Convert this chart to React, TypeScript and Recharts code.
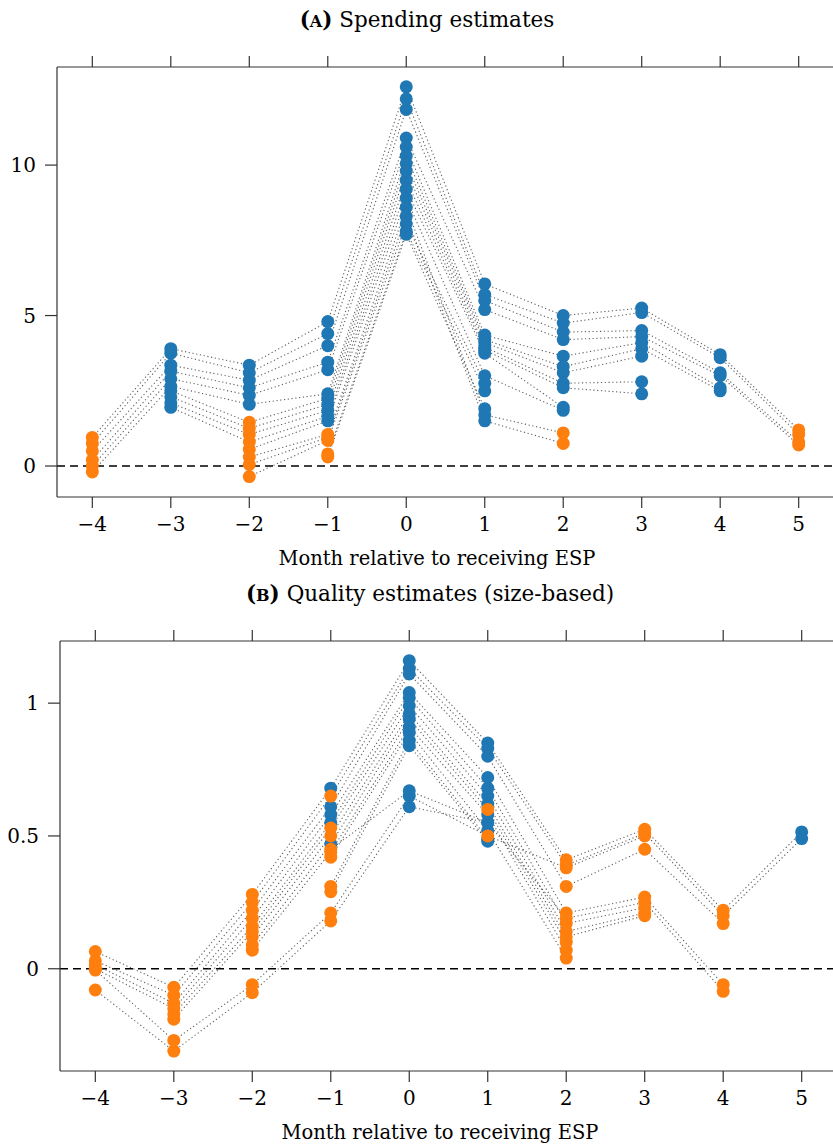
import React from "react";
import { ComposedChart, Line, Scatter, XAxis, YAxis, ReferenceLine } from "recharts";

// months relative to receiving the ESP
const months = [-4, -3, -2, -1, 0, 1, 2, 3, 4, 5];

// panel A: spending estimates, one row per specification (months -4..5)
const spendingSeries: (number | null)[][] = [
  [0.95, 3.9, 3.35, 4.8, 12.6, 6.05, 5.0, 5.25, 3.7, 1.2],
  [0.75, 3.75, 3.1, 4.4, 12.2, 5.7, 4.75, 5.1, 3.6, 1.05],
  [0.5, 3.35, 2.85, 4.0, 11.85, 5.5, 4.45, 4.5, 3.1, 0.8],
  [0.2, 3.15, 2.6, 3.45, 10.9, 5.2, 4.2, 4.3, 3.0, 0.7],
  [0.0, 2.9, 2.35, 3.2, 10.6, 4.35, 3.65, 4.1, 2.6, null],
  [-0.2, 2.65, 2.05, 2.4, 10.3, 4.2, 3.3, 3.9, 2.5, null],
  [null, 2.5, 1.45, 2.25, 10.05, 4.1, 3.1, 3.65, null, null],
  [null, 2.3, 1.25, 2.05, 9.8, 3.95, 2.75, 2.8, null, null],
  [null, 2.1, 1.05, 1.85, 9.5, 3.85, 2.6, 2.4, null, null],
  [null, 1.95, 0.8, 1.65, 9.2, 3.75, 1.95, null, null, null],
  [null, null, 0.55, 1.5, 8.9, 3.0, 1.85, null, null, null],
  [null, null, 0.3, 1.05, 8.6, 1.7, 1.1, null, null, null],
  [null, null, 0.05, 0.95, 8.3, 1.5, 0.75, null, null, null],
  [null, null, -0.35, 0.85, 8.05, 2.75, null, null, null, null],
  [null, null, null, 0.4, 7.8, 2.5, null, null, null, null],
  [null, null, null, 0.3, 7.7, 1.9, null, null, null, null],
];
// b = significant (blue), o = not significant (orange), - = no estimate
const spendingSig = [
  "obbbbbbbbo",
  "obbbbbbbbo",
  "obbbbbbbbo",
  "obbbbbbbbo",
  "obbbbbbbb-",
  "obbbbbbbb-",
  "-bobbbbb--",
  "-bobbbbb--",
  "-bobbbbb--",
  "-bobbbb---",
  "--obbbb---",
  "--oobbo---",
  "--oobbo---",
  "--oobb----",
  "---obb----",
  "---obb----",
];
const spendingTicks = [0, 5, 10];

// panel B: quality estimates (size-based)
const qualitySeries: (number | null)[][] = [
  [0.065, -0.07, 0.28, 0.68, 1.16, 0.85, 0.41, 0.525, 0.22, 0.515],
  [0.03, -0.1, 0.25, 0.65, 1.13, 0.83, 0.39, 0.51, 0.2, 0.49],
  [0.015, -0.13, 0.22, 0.61, 1.11, 0.8, 0.31, 0.45, 0.17, null],
  [0.0, -0.15, 0.19, 0.58, 1.04, 0.72, 0.21, 0.27, -0.06, null],
  [-0.08, -0.31, -0.09, 0.18, 0.61, 0.55, 0.19, 0.25, -0.085, null],
  [-0.005, -0.27, -0.06, 0.21, 0.65, 0.5, 0.38, 0.5, null, null],
  [null, -0.17, 0.16, 0.55, 1.02, 0.68, 0.17, 0.23, null, null],
  [null, -0.19, 0.14, 0.53, 0.99, 0.65, 0.14, 0.21, null, null],
  [null, null, 0.12, 0.5, 0.96, 0.62, 0.12, 0.2, null, null],
  [null, null, 0.09, 0.47, 0.94, 0.6, 0.1, null, null, null],
  [null, null, 0.07, 0.44, 0.91, 0.58, 0.07, null, null, null],
  [null, null, null, 0.42, 0.89, 0.52, 0.04, null, null, null],
  [null, null, null, 0.31, 0.86, 0.49, null, null, null, null],
  [null, null, null, 0.29, 0.84, 0.48, null, null, null, null],
  [null, null, null, 0.45, 0.67, 0.55, null, null, null, null],
];
const qualitySig = [
  "ooobbbooob",
  "oooobbooob",
  "ooobbbooo-",
  "ooobbbooo-",
  "oooobbooo-",
  "oooobooo--",
  "-oobbboo--",
  "-ooobboo--",
  "--oobboo--",
  "--obboo---",
  "--oobbo---",
  "---obbo---",
  "---obb----",
  "---obb----",
  "---obb----",
];
const qualityTicks = [0, 0.5, 1];

const BLUE = "#1f77b4";
const ORANGE = "#ff7f0e";
const FONT = "DejaVu Serif";
const AXIS = "#333";

const fmtNum = (v: number) => (v < 0 ? `\u2212${-v}` : `${v}`);

function dot(color: string) {
  return (p: any) => <circle cx={p.cx} cy={p.cy} r={6.5} fill={color} />;
}

function Panel({ series, sig, yDomain, yTicks, letter, title, left, top }: any) {
  const lines = series.map((vals: (number | null)[]) =>
    months
      .map((m, j) => ({ x: m, y: vals[j] }))
      .filter((d) => d.y !== null)
  );
  const blue: any[] = [];
  const orange: any[] = [];
  series.forEach((vals: (number | null)[], i: number) => {
    vals.forEach((v, j) => {
      if (v === null) return;
      const pt = { x: months[j], y: v };
      if (sig[i][j] === "b") blue.push(pt);
      else orange.push(pt);
    });
  });

  return (
    <div style={{ position: "absolute", left, top, width: 850, height: 580 }}>
      <ComposedChart width={850} height={580} margin={{ top: 66, right: 16, bottom: 0, left: 0 }}>
        <XAxis
          xAxisId="top"
          orientation="top"
          type="number"
          dataKey="x"
          domain={[-4.45, 5.45]}
          ticks={months}
          allowDataOverflow
          height={1}
          tickSize={11}
          tickFormatter={() => ""}
          axisLine={{ stroke: AXIS, strokeWidth: 1.2 }}
          tickLine={{ stroke: AXIS, strokeWidth: 1.2 }}
        />
        <XAxis
          type="number"
          dataKey="x"
          domain={[-4.45, 5.45]}
          ticks={months}
          allowDataOverflow
          height={83}
          tickSize={11}
          tickMargin={9}
          tickFormatter={fmtNum}
          tick={{ fontFamily: FONT, fontSize: 20, fill: "#000" }}
          axisLine={{ stroke: AXIS, strokeWidth: 1.2 }}
          tickLine={{ stroke: AXIS, strokeWidth: 1.2 }}
        />
        <YAxis
          type="number"
          dataKey="y"
          domain={yDomain}
          ticks={yTicks}
          allowDataOverflow
          width={57}
          tickSize={12}
          tickMargin={9}
          tickFormatter={fmtNum}
          tick={{ fontFamily: FONT, fontSize: 20, fill: "#000" }}
          axisLine={{ stroke: AXIS, strokeWidth: 1.2 }}
          tickLine={{ stroke: AXIS, strokeWidth: 1.2 }}
        />
        <ReferenceLine y={0} stroke="#000" strokeWidth={1.6} strokeDasharray="8 5" />
        {lines.map((data: any[], i: number) => (
          <Line
            key={i}
            data={data}
            dataKey="y"
            type="linear"
            stroke="#444"
            strokeOpacity={0.85}
            strokeWidth={1.1}
            strokeDasharray="1.2 2.6"
            dot={false}
            activeDot={false}
            isAnimationActive={false}
          />
        ))}
        <Scatter data={blue} fill={BLUE} shape={dot(BLUE)} isAnimationActive={false} />
        <Scatter data={orange} fill={ORANGE} shape={dot(ORANGE)} isAnimationActive={false} />
        <Scatter
          xAxisId="top"
          data={blue}
          shape={() => <g />}
          isAnimationActive={false}
        />
      </ComposedChart>
      <svg
        width={850}
        height={580}
        style={{ position: "absolute", left: 0, top: 0, pointerEvents: "none" }}
      >
        <text x={427} y={27} textAnchor="middle" fontFamily={FONT} fontSize={21.5} fill="#000">
          <tspan fontWeight="bold">(</tspan>
          <tspan fontWeight="bold" fontSize={16}>{letter}</tspan>
          <tspan fontWeight="bold">)</tspan> {title}
        </text>
        <text x={437} y={565} textAnchor="middle" fontFamily={FONT} fontSize={19.5} fill="#000">
          Month relative to receiving ESP
        </text>
      </svg>
    </div>
  );
}

export default function App() {
  return (
    <div
      style={{
        position: "fixed",
        left: 0,
        top: 0,
        width: 833,
        height: 1147,
        overflow: "hidden",
        background: "#fff",
      }}
    >
      <Panel
        series={spendingSeries}
        sig={spendingSig}
        yDomain={[-1.03, 13.26]}
        yTicks={spendingTicks}
        letter="A"
        title="Spending estimates"
        left={0}
        top={0}
      />
      <Panel
        series={qualitySeries}
        sig={qualitySig}
        yDomain={[-0.385, 1.234]}
        yTicks={qualityTicks}
        letter="B"
        title="Quality estimates (size-based)"
        left={3}
        top={574}
      />
    </div>
  );
}
